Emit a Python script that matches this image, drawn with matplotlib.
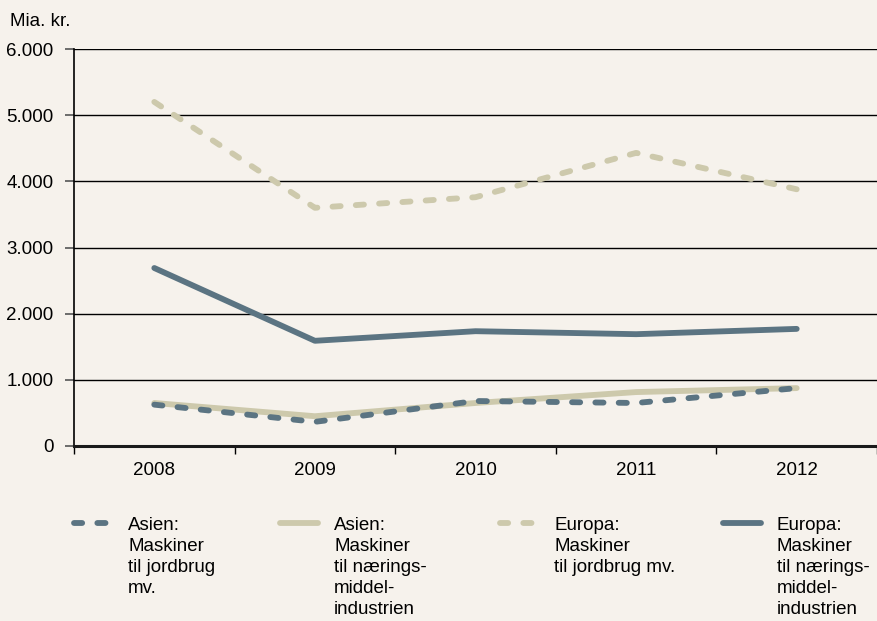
import matplotlib
matplotlib.use("Agg")
import matplotlib.pyplot as plt
from matplotlib.lines import Line2D
import numpy as np

# data (Mia. kr.)
years = ["2008", "2009", "2010", "2011", "2012"]
asien_jordbrug = [625, 365, 680, 650, 875]
asien_naering = [650, 450, 650, 815, 875]
europa_jordbrug = [5200, 3600, 3760, 4430, 3880]
europa_naering = [2690, 1590, 1735, 1690, 1770]
y_ticks = [0, 1000, 2000, 3000, 4000, 5000, 6000]
y_ticklabels = ["0", "1.000", "2.000", "3.000", "4.000", "5.000", "6.000"]

legend_labels = [
    "Asien:\nMaskiner\ntil jordbrug\nmv.",
    "Asien:\nMaskiner\ntil nærings-\nmiddel-\nindustrien",
    "Europa:\nMaskiner\ntil jordbrug mv.",
    "Europa:\nMaskiner\ntil nærings-\nmiddel-\nindustrien",
]

BG = "#f6f2ec"
BEIGE = "#cdc9ac"
SLATE = "#5b7482"
FS = 13.5

plt.rcParams["font.family"] = ["Liberation Sans", "DejaVu Sans"]
plt.rcParams["font.size"] = FS

W, H = 877, 621
fig = plt.figure(figsize=(W / 100, H / 100), dpi=100, facecolor=BG)


def fx(px):
    return px / W


def fy(py):
    return 1 - py / H


ax = fig.add_axes([fx(74), fy(446), fx(877) - fx(74), fy(49) - fy(446)])
ax.set_facecolor(BG)

x = np.arange(len(years)) + 0.5
lw = 4.2
dash = (0, (1.4, 2.6))

styles = [
    (asien_naering, BEIGE, "-"),
    (asien_jordbrug, SLATE, dash),
    (europa_naering, SLATE, "-"),
    (europa_jordbrug, BEIGE, dash),
]
for vals, col, ls in styles:
    ax.plot(x, vals, color=col, lw=lw, ls=ls, solid_capstyle="round",
            dash_capstyle="round", zorder=3)

ax.set_xlim(0, len(years))
ax.set_ylim(0, 6000)
ax.set_yticks(y_ticks)
ax.set_yticklabels(y_ticklabels)
ax.set_xticks(np.arange(len(years) + 1))
ax.set_xticklabels([])
ax.set_xticks(x, minor=True)
ax.set_xticklabels(years, minor=True)

for v in y_ticks[1:]:
    ax.axhline(v, color="black", lw=1.0, zorder=1)

for s in ["top", "right"]:
    ax.spines[s].set_visible(False)
ax.spines["left"].set_linewidth(1.2)
ax.spines["bottom"].set_linewidth(2.2)
ax.spines["left"].set_color("black")
ax.spines["bottom"].set_color("#1a1a1a")

ax.tick_params(axis="y", length=6.5, width=1.2, color="#555555", pad=8.4,
               labelsize=FS)
ax.tick_params(axis="x", which="major", length=5.5, width=1.0, color="black")
ax.tick_params(axis="x", which="minor", length=0, pad=11.5, labelsize=FS)

fig.text(fx(10), fy(26), "Mia. kr.", fontsize=FS, va="baseline", ha="left")

# legend, laid out manually so the handle sits on the first text line
handle_x = [72, 278, 498, 721]
text_x = [128, 334, 554, 777]
leg_styles = [(SLATE, dash), (BEIGE, "-"), (BEIGE, dash), (SLATE, "-")]
for hx, tx, (col, ls), lab in zip(handle_x, text_x, leg_styles, legend_labels):
    fig.add_artist(Line2D([fx(hx + 2), fx(hx + 40)], [fy(523), fy(523)],
                          transform=fig.transFigure, color=col, lw=lw, ls=ls,
                          solid_capstyle="round", dash_capstyle="round"))
    fig.text(fx(tx), fy(517), lab, fontsize=FS, va="top", ha="left",
             linespacing=1.3)

fig.savefig("out.png", dpi=100, facecolor=BG)
